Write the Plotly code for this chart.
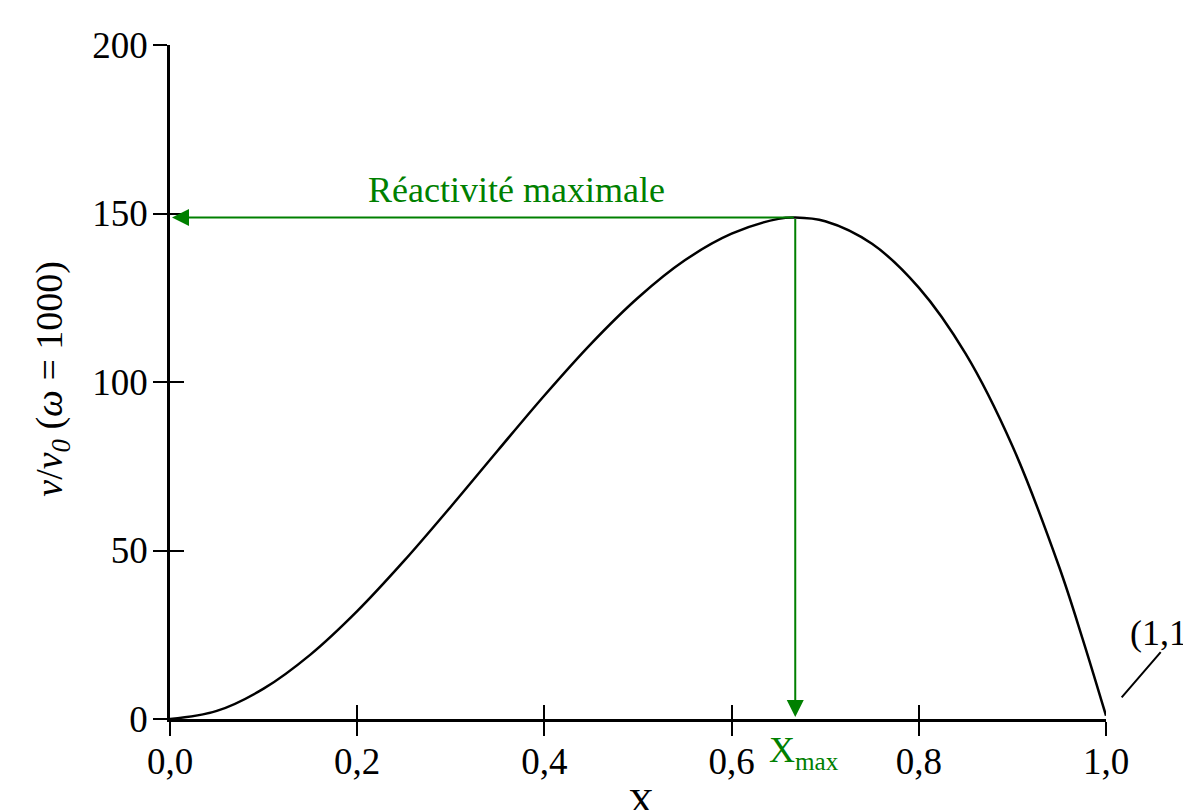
import plotly.graph_objects as go

# ---- data ----
X = [0.0, 0.05, 0.10, 0.15, 0.20, 0.25, 0.30, 0.35, 0.40, 0.45, 0.50, 0.55,
     0.60, 0.65, 0.668, 0.70, 0.75, 0.80, 0.85, 0.90, 0.95, 0.975, 1.0]
V = [0.0, 2.4, 9.0, 19.1, 32.0, 46.9, 63.0, 79.6, 96.0, 111.4, 125.0, 136.1,
     144.0, 148.4, 148.8, 147.7, 141.0, 128.0, 108.4, 81.0, 45.1, 23.8, 1.0]

X_MAX = 0.668
V_MAX = 148.8

x_tickvals = [0.0, 0.2, 0.4, 0.6, 0.8, 1.0]
x_ticktext = ["0,0", "0,2", "0,4", "0,6", "0,8", "1,0"]
y_tickvals = [0, 50, 100, 150, 200]
y_ticktext = ["0", "50", "100", "150", "200"]

FONT = "Liberation Serif"
GREEN = "#008000"
TICK_SIZE = 37

fig = go.Figure()
fig.add_trace(go.Scatter(
    x=X, y=V, mode="lines",
    line=dict(color="black", width=2.5, shape="spline", smoothing=1.0),
    hoverinfo="skip", showlegend=False))
# transparent trace to carry the overlay (inner tick) axes
fig.add_trace(go.Scatter(
    x=X, y=V, mode="lines", xaxis="x2", yaxis="y2",
    line=dict(color="rgba(0,0,0,0)", width=0),
    hoverinfo="skip", showlegend=False))

axis_common = dict(showgrid=False, zeroline=False)

fig.update_layout(
    width=1183, height=802,
    margin=dict(l=162, r=85, t=37, b=91),
    paper_bgcolor="white", plot_bgcolor="white",
    font=dict(family=FONT, size=34, color="black"),
    xaxis=dict(range=[0, 1], tickvals=x_tickvals, ticktext=x_ticktext,
               showline=True, linecolor="black", linewidth=2.5,
               ticks="outside", ticklen=14, tickwidth=2, tickcolor="black",
               tickfont=dict(family=FONT, size=TICK_SIZE, color="black"),
               ticklabelstandoff=-6, **axis_common),
    yaxis=dict(range=[0, 200], tickvals=y_tickvals, ticktext=y_ticktext,
               showline=True, linecolor="black", linewidth=2.5,
               ticks="outside", ticklen=14, tickwidth=2, tickcolor="black",
               tickfont=dict(family=FONT, size=TICK_SIZE, color="black"),
               ticklabelstandoff=-2, **axis_common),
    xaxis2=dict(range=[0, 1], overlaying="x", anchor="y", side="bottom",
                tickvals=x_tickvals, ticks="inside", ticklen=14, tickwidth=2,
                tickcolor="black", showticklabels=False, showline=False,
                **axis_common),
    yaxis2=dict(range=[0, 200], overlaying="y", anchor="x", side="left",
                tickvals=y_tickvals, ticks="inside", ticklen=14, tickwidth=2,
                tickcolor="black", showticklabels=False, showline=False,
                **axis_common),
)

ann = []
# horizontal arrow to the y axis
ann.append(dict(x=0, y=V_MAX, ax=X_MAX, ay=V_MAX, xref="x", yref="y",
                axref="x", ayref="y", text="", showarrow=True,
                arrowhead=2, arrowsize=1.7, arrowwidth=2, arrowcolor=GREEN,
                standoff=2))
# vertical arrow to the x axis
ann.append(dict(x=X_MAX, y=0, ax=X_MAX, ay=V_MAX, xref="x", yref="y",
                axref="x", ayref="y", text="", showarrow=True,
                arrowhead=2, arrowsize=1.7, arrowwidth=2, arrowcolor=GREEN,
                standoff=2))
ann.append(dict(x=0.37, y=V_MAX, xref="x", yref="y", text="Réactivité maximale",
                showarrow=False, xanchor="center", yanchor="bottom", yshift=6,
                font=dict(family=FONT, size=36, color=GREEN)))
ann.append(dict(x=X_MAX, y=0, xref="x", yref="y", text="X<sub>max</sub>",
                showarrow=False, xanchor="center", yanchor="top", xshift=9,
                yshift=-9, font=dict(family=FONT, size=36, color=GREEN)))
# (1,1) label + leader line
ann.append(dict(x=X[-1], y=V[-1], xref="x", yref="y", text="(1,1)",
                showarrow=False, xanchor="left", yanchor="middle",
                xshift=22, yshift=83, font=dict(family=FONT, size=36, color="black")))
ann.append(dict(x=X[-1], y=V[-1], xref="x", yref="y", text="", showarrow=True,
                ax=56, ay=-65, arrowhead=0, arrowwidth=2, arrowcolor="black",
                standoff=24))
# axis titles
ann.append(dict(x=-0.126, y=0.505, xref="paper", yref="paper",
                text="<i>v</i>/<i>v</i><sub><i>0</i></sub> (<i>ω</i> = 1000)",
                textangle=-90, showarrow=False, xanchor="center", yanchor="middle",
                font=dict(family=FONT, size=38, color="black")))
ann.append(dict(x=0.5035, y=-0.0905, xref="paper", yref="paper", text="X",
                showarrow=False, xanchor="center", yanchor="top",
                font=dict(family=FONT, size=36, color="black")))
fig.update_layout(annotations=ann)

fig.write_html("out.html")
